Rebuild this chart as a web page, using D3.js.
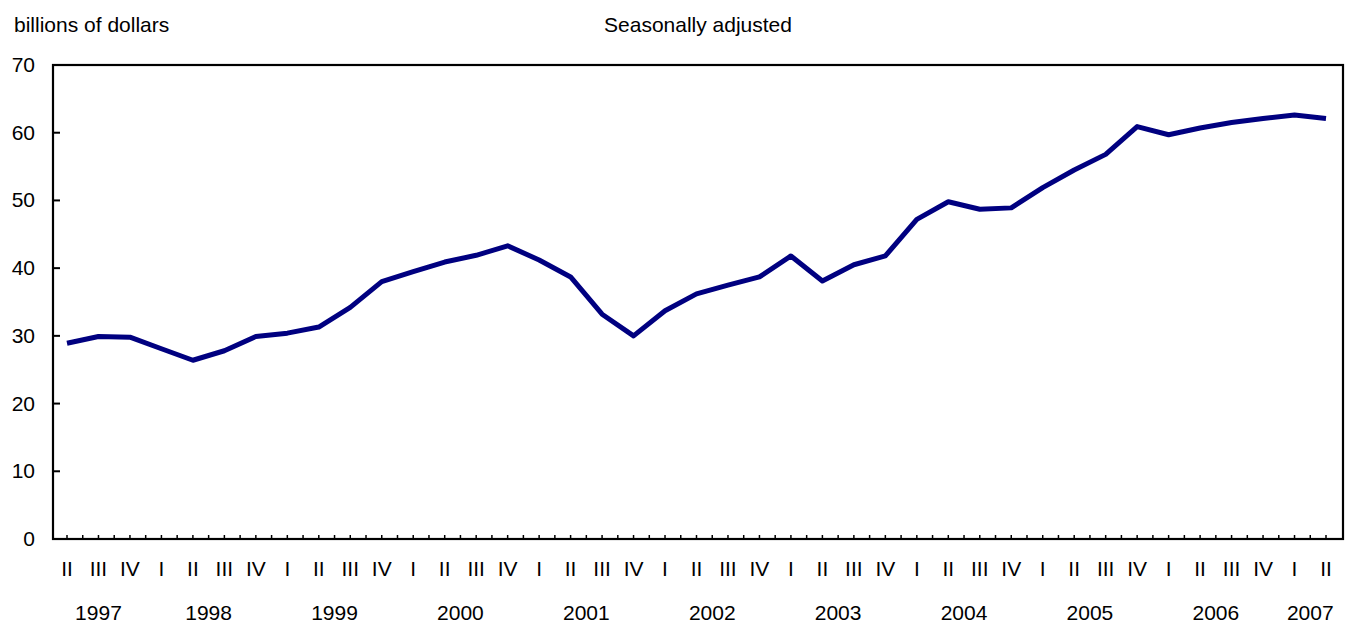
<!DOCTYPE html>
<html lang="en">
  <head>
    <meta charset="UTF-8" />
    <title>Seasonally adjusted</title>
    <script src="https://d3js.org/d3.v7.min.js"></script>
    <style>
      body { margin: 0; background: #fff; }
      text { font-family: 'Liberation Sans', Arial, sans-serif; font-size: 21px; fill: #000; }
    </style>
  </head>
  <body>
    <div id="chart"></div>
    <script>
      // quarters 1997 II .. 2007 II
      const quarters = ['II', 'III', 'IV',
        'I', 'II', 'III', 'IV', 'I', 'II', 'III', 'IV', 'I', 'II', 'III', 'IV',
        'I', 'II', 'III', 'IV', 'I', 'II', 'III', 'IV', 'I', 'II', 'III', 'IV',
        'I', 'II', 'III', 'IV', 'I', 'II', 'III', 'IV', 'I', 'II', 'III', 'IV',
        'I', 'II']
      const quarterYears = [1997, 1997, 1997,
        1998, 1998, 1998, 1998, 1999, 1999, 1999, 1999, 2000, 2000, 2000, 2000,
        2001, 2001, 2001, 2001, 2002, 2002, 2002, 2002, 2003, 2003, 2003, 2003,
        2004, 2004, 2004, 2004, 2005, 2005, 2005, 2005, 2006, 2006, 2006, 2006,
        2007, 2007]
      const values = [28.9, 29.9, 29.8,
        28.1, 26.4, 27.8, 29.9, 30.4, 31.3, 34.2, 38.0, 39.5, 40.9, 41.9, 43.3,
        41.2, 38.7, 33.2, 30.0, 33.7, 36.2, 37.5, 38.7, 41.8, 38.1, 40.5, 41.8,
        47.2, 49.8, 48.7, 48.9, 51.9, 54.5, 56.8, 60.9, 59.7, 60.7, 61.5, 62.1,
        62.6, 62.1]
      const yTicks = [0, 10, 20, 30, 40, 50, 60, 70]

      const width = 1345
      const height = 623
      const plotLeft = 53, plotRight = 1343, plotTop = 65, plotBottom = 539

      const svg = d3.select('#chart').append('svg')
        .attr('width', width)
        .attr('height', height)

      const x = d3.scaleLinear().domain([0, quarters.length - 1]).range([67, 1326])
      const y = d3.scaleLinear().domain([0, 70]).range([plotBottom, plotTop])

      svg.append('text').attr('x', 14).attr('y', 32).text('billions of dollars')
      svg.append('text').attr('x', 698).attr('y', 32).attr('text-anchor', 'middle').text('Seasonally adjusted')

      // y axis ticks + labels
      svg.selectAll('.ytick').data(yTicks).enter().append('line')
        .attr('x1', plotLeft).attr('x2', plotLeft + 7)
        .attr('y1', d => y(d)).attr('y2', d => y(d))
        .attr('stroke', '#000').attr('stroke-width', 2)
      svg.selectAll('.ylab').data(yTicks).enter().append('text')
        .attr('x', 35).attr('y', d => y(d) + 7)
        .attr('text-anchor', 'end')
        .text(d => d)

      // x ticks at every half step
      svg.selectAll('.xtick').data(d3.range(0, quarters.length - 0.5, 0.5)).enter().append('line')
        .attr('x1', d => x(d)).attr('x2', d => x(d))
        .attr('y1', plotBottom).attr('y2', plotBottom - 4)
        .attr('stroke', '#000').attr('stroke-width', 1.5)

      svg.selectAll('.qlab').data(quarters).enter().append('text')
        .attr('x', (d, i) => x(i)).attr('y', 576)
        .attr('text-anchor', 'middle')
        .text(d => d)

      const years = d3.groups(quarters.map((q, i) => ({ i, yr: quarterYears[i] })), d => d.yr)
      svg.selectAll('.yrlab').data(years).enter().append('text')
        .attr('x', d => x(d3.mean(d[1], e => e.i))).attr('y', 620)
        .attr('text-anchor', 'middle')
        .text(d => d[0])

      // frame
      svg.append('rect')
        .attr('x', plotLeft).attr('y', plotTop)
        .attr('width', plotRight - plotLeft).attr('height', plotBottom - plotTop)
        .attr('fill', 'none').attr('stroke', '#000').attr('stroke-width', 2.2)

      const line = d3.line().x((d, i) => x(i)).y(d => y(d))
      svg.append('path')
        .datum(values)
        .attr('d', line)
        .attr('fill', 'none')
        .attr('stroke', '#000080')
        .attr('stroke-width', 5)
        .attr('stroke-linejoin', 'round')
    </script>
  </body>
</html>
